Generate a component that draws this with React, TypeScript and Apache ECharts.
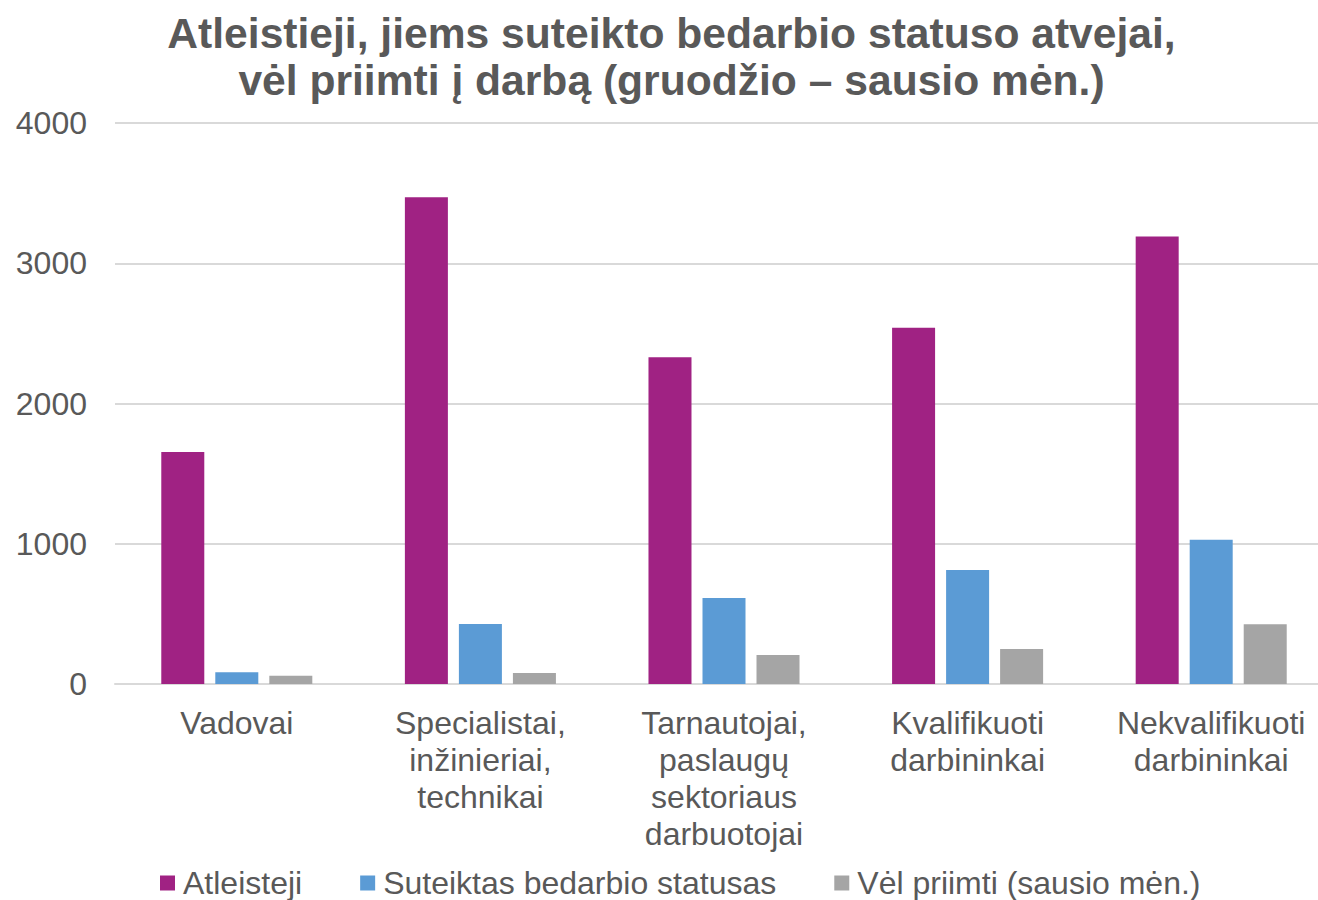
import React, { useEffect, useRef } from "react";
import * as echarts from "echarts";

const categories = [
  "Vadovai",
  "Specialistai,\ninžinieriai,\ntechnikai",
  "Tarnautojai,\npaslaugų\nsektoriaus\ndarbuotojai",
  "Kvalifikuoti\ndarbininkai",
  "Nekvalifikuoti\ndarbininkai",
];
const atleisteji = [1655, 3470, 2330, 2540, 3190];
const suteiktas = [83, 428, 613, 813, 1029];
const velPriimti = [59, 79, 207, 250, 426];
const yTicks = { min: 0, max: 4000, interval: 1000 };

const FONT = "Liberation Sans, Arial, sans-serif";
const TXT = "#595959";

export default function App() {
  const ref = useRef<HTMLDivElement>(null);
  useEffect(() => {
    if (!ref.current) return;
    const chart = echarts.init(ref.current, undefined, { renderer: "svg" });
    chart.setOption({
      animation: false,
      backgroundColor: "#ffffff",
      title: {
        text: "Atleistieji, jiems suteikto bedarbio statuso atvejai,\nvėl priimti į darbą (gruodžio – sausio mėn.)",
        left: "center",
        top: 4,
        textStyle: {
          fontFamily: FONT,
          fontSize: 42.6,
          fontWeight: "bold",
          color: TXT,
          lineHeight: 47,
        },
      },
      legend: {
        left: 155,
        top: 862,
        itemWidth: 15,
        itemHeight: 15,
        itemGap: 58,
        icon: "rect",
        textStyle: { fontFamily: FONT, fontSize: 32, color: TXT, padding: [0, 0, 0, 3] },
        data: ["Atleisteji", "Suteiktas bedarbio statusas", "Vėl priimti (sausio mėn.)"],
      },
      grid: { left: 115, right: 10, top: 123, bottom: 216, containLabel: false },
      xAxis: {
        type: "category",
        data: categories,
        axisLine: { lineStyle: { color: "#d9d9d9", width: 2 } },
        axisTick: { show: false },
        axisLabel: {
          fontFamily: FONT,
          fontSize: 32,
          color: TXT,
          lineHeight: 37,
          margin: 20,
          interval: 0,
        },
      },
      yAxis: {
        type: "value",
        min: yTicks.min,
        max: yTicks.max,
        interval: yTicks.interval,
        axisLine: { show: false },
        axisTick: { show: false },
        splitLine: { lineStyle: { color: "#d9d9d9", width: 2 } },
        axisLabel: {
          fontFamily: FONT,
          fontSize: 32,
          color: TXT,
          margin: 28,
          formatter: (v: number) => String(v),
        },
      },
      series: [
        {
          name: "Atleisteji",
          type: "bar",
          data: atleisteji,
          itemStyle: { color: "#a02283" },
          barGap: "25.6%",
          barCategoryGap: "38%",
        },
        {
          name: "Suteiktas bedarbio statusas",
          type: "bar",
          data: suteiktas,
          itemStyle: { color: "#5b9bd5" },
        },
        {
          name: "Vėl priimti (sausio mėn.)",
          type: "bar",
          data: velPriimti,
          itemStyle: { color: "#a5a5a5" },
        },
      ],
    });
    return () => chart.dispose();
  }, []);
  return (
    <div
      style={{
        position: "absolute",
        left: 0,
        top: 0,
        width: 1318,
        height: 900,
        overflow: "hidden",
        background: "#ffffff",
      }}
    >
      <div ref={ref} style={{ width: 1343, height: 900 }} />
    </div>
  );
}
